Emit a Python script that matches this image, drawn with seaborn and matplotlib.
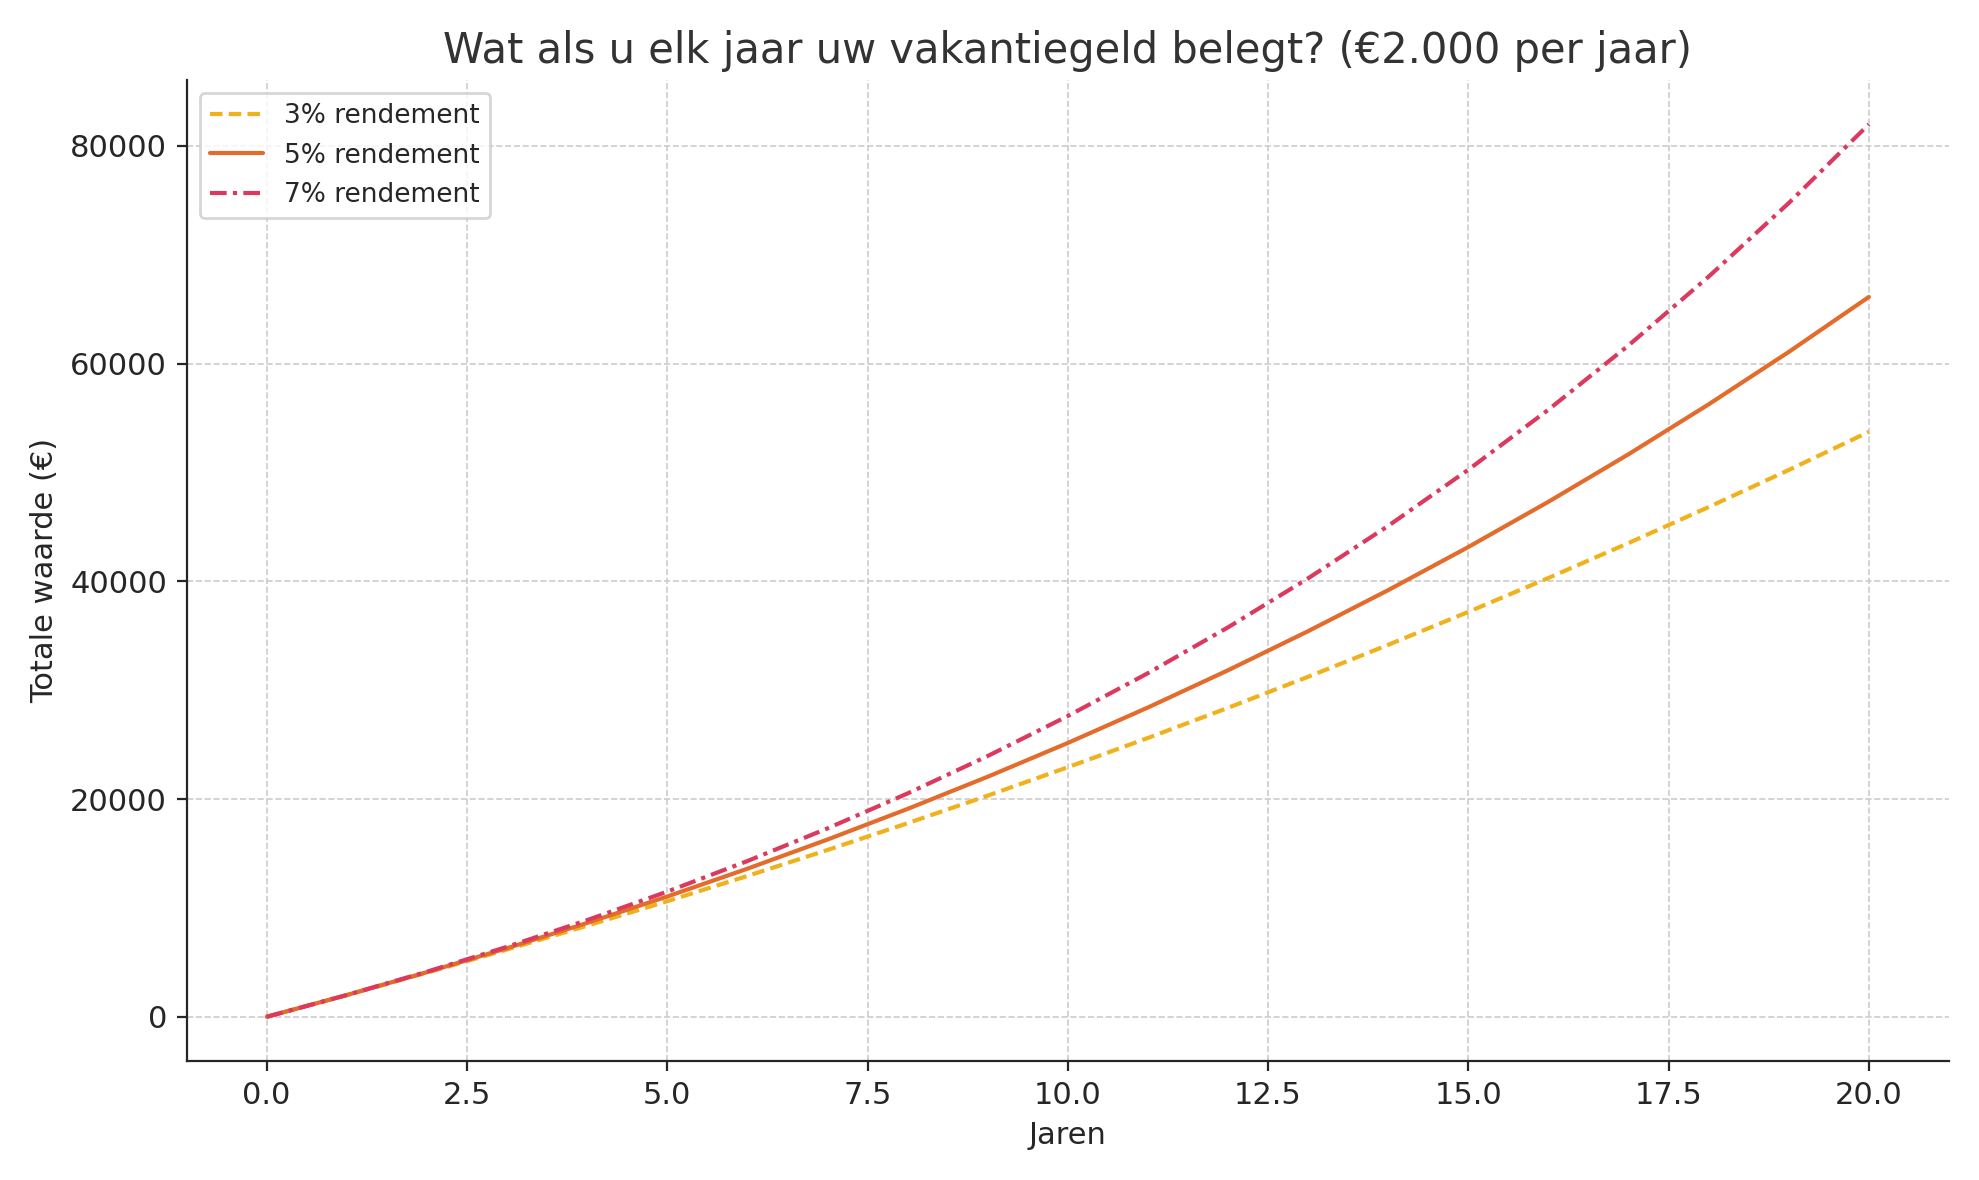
import matplotlib
matplotlib.use("Agg")
import matplotlib.pyplot as plt
import seaborn as sns
import pandas as pd

# data (value per year, in euro)
years = list(range(0, 21))
r3 = [0, 2000, 4060, 6182, 8367, 10618, 12937, 15325, 17785, 20318, 22928,
      25616, 28384, 31236, 34173, 37198, 40315, 43524, 46829, 50234, 53741]
r5 = [0, 2000, 4100, 6305, 8620, 11051, 13604, 16284, 19098, 22053, 25156,
      28414, 31834, 35426, 39197, 43157, 47315, 51681, 56265, 61078, 66132]
r7 = [0, 2000, 4140, 6430, 8880, 11501, 14307, 17308, 20520, 23956, 27633,
      31567, 35777, 40281, 45101, 50258, 55776, 61681, 67998, 74758, 81990]
labels = ["3% rendement", "5% rendement", "7% rendement"]

df = pd.DataFrame({"Jaren": years * 3,
                   "Waarde": r3 + r5 + r7,
                   "Scenario": [labels[0]] * 21 + [labels[1]] * 21 + [labels[2]] * 21})

sns.set_style("ticks")
fig, ax = plt.subplots(figsize=(9.895, 5.9), dpi=200)
palette = {labels[0]: "#efb21c", labels[1]: "#e36c2c", labels[2]: "#db3a5e"}
dashes = {labels[0]: (3, 1.5), labels[1]: "", labels[2]: (4, 1.5, 1, 1.5)}
sns.lineplot(data=df, x="Jaren", y="Waarde", hue="Scenario", style="Scenario",
             palette=palette, dashes=dashes, linewidth=1.5, ax=ax)

ax.grid(True, linestyle="--", linewidth=0.6, color="#cccccc")
sns.despine(ax=ax)
ax.set_title("Wat als u elk jaar uw vakantiegeld belegt? (€2.000 per jaar)",
             fontsize=15, color="#333333")
ax.set_xlabel("Jaren", fontsize=11)
ax.set_ylabel("Totale waarde (€)", fontsize=11)
ax.set_xticks([0, 2.5, 5, 7.5, 10, 12.5, 15, 17.5, 20])
ax.set_xticklabels(["0.0", "2.5", "5.0", "7.5", "10.0", "12.5", "15.0", "17.5", "20.0"])
ax.tick_params(labelsize=11)
ax.legend(title=None, loc="upper left", fontsize=9.5)
fig.tight_layout()
fig.savefig("out.png", dpi=200)
